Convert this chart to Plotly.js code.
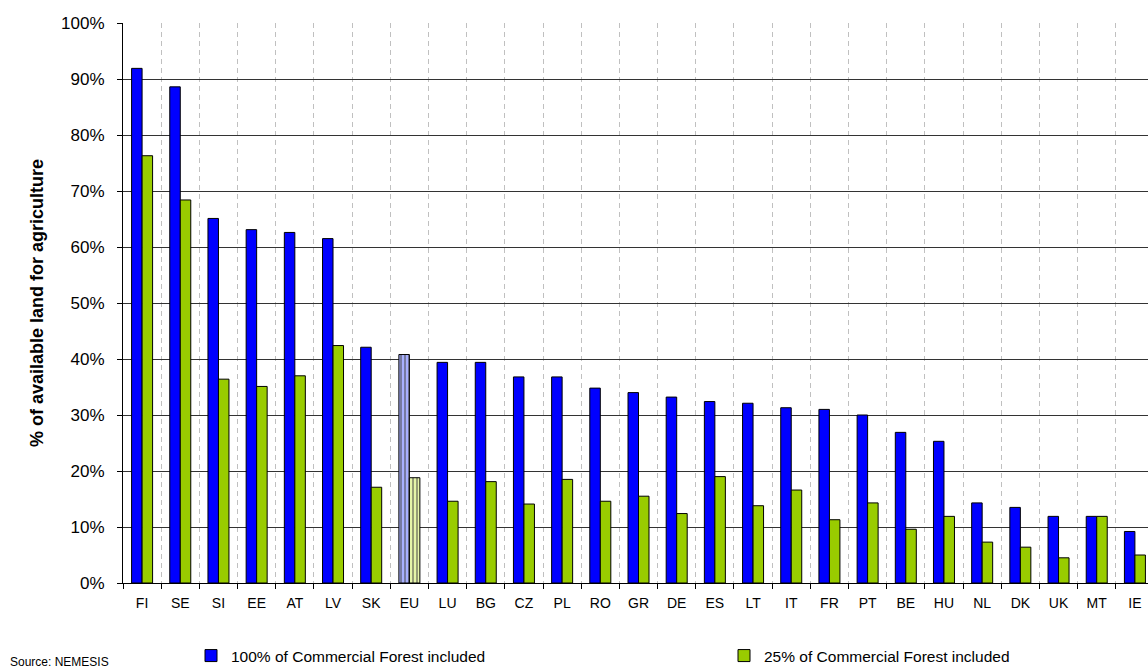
<!DOCTYPE html>
<html>
<head>
<meta charset="utf-8">
<script src="https://cdn.plot.ly/plotly-3.0.1.min.js"></script>
<style>
html,body{margin:0;padding:0;overflow:hidden;background:#fff;}
#chart{width:1200px;height:671px;}
</style>
</head>
<body>
<div id="chart"></div>
<script>
const countries = ["FI","SE","SI","EE","AT","LV","SK","EU","LU","BG","CZ","PL","RO","GR","DE","ES","LT","IT","FR","PT","BE","HU","NL","DK","UK","MT","IE"];
const full100 = [91.9,88.6,65.1,63.1,62.6,61.5,42.1,40.8,39.4,39.4,36.8,36.8,34.8,34.0,33.2,32.4,32.1,31.3,31.0,30.0,26.9,25.3,14.3,13.5,11.9,11.9,9.2];
const part25 = [76.3,68.4,36.4,35.1,37.0,42.4,17.1,18.8,14.6,18.1,14.1,18.5,14.6,15.5,12.4,19.0,13.8,16.6,11.3,14.3,9.6,11.9,7.3,6.4,4.5,11.9,5.0];
const seriesNames = ["100% of Commercial Forest included","25% of Commercial Forest included"];
const yTickVals = [0,10,20,30,40,50,60,70,80,90,100];
const highlight = "EU";

const shapes = countries.map(c => c === highlight ? "|" : "");
function pat(bg, fg){
  return {
    shape: shapes,
    bgcolor: countries.map(c => c === highlight ? bg : "rgba(0,0,0,0)"),
    fgcolor: countries.map(c => c === highlight ? fg : "rgba(0,0,0,0)"),
    size: 4, solidity: 0.5, fillmode: "overlay"
  };
}

const W = 1200, H = 671;
const L = 123, PW = 1031, PB = 583, PH = 560;
const px2x = p => (p - L) / PW;
const px2y = p => -(p - PB) / PH;
const cx = p => p / W;
const cy = p => (H - p) / H;

const traces = [
  {type:"bar", name:seriesNames[0], x:countries, y:full100, legend:"legend",
   marker:{color:countries.map(c=>c===highlight?"#a8b0ff":"#0000ff"), line:{color:"#000",width:1},
     pattern:pat("#b8c0ff","#0000ff")},
   hoverinfo:"x+y"},
  {type:"bar", name:seriesNames[1], x:countries, y:part25, legend:"legend2",
   marker:{color:countries.map(c=>c===highlight?"#e6f5a8":"#99cc00"), line:{color:"#000",width:1},
     pattern:pat("#eef8c0","#99cc00")},
   hoverinfo:"x+y"}
];

const legendBase = {orientation:"h", xref:"container", yref:"container",
  xanchor:"left", yanchor:"middle", y:cy(656),
  font:{size:15.5}, itemwidth:30, bgcolor:"rgba(0,0,0,0)", borderwidth:0};

const layout = {
  width:W, height:H,
  margin:{l:L, r:W-L-PW, t:23, b:H-23-PH, autoexpand:false},
  paper_bgcolor:"#fff", plot_bgcolor:"#fff",
  font:{family:"Liberation Sans, Arial, sans-serif", size:14, color:"#000"},
  barmode:"group", bargap:0.45, bargroupgap:0,
  showlegend:true,
  legend:Object.assign({}, legendBase, {x:cx(191)}),
  legend2:Object.assign({}, legendBase, {x:cx(724)}),
  xaxis:{type:"category", tickson:"boundaries", ticks:"outside", ticklen:5, tickcolor:"#000",
    showline:true, linecolor:"#000", linewidth:1,
    showgrid:true, gridcolor:"#c0c0c0", griddash:"5px,4px", gridwidth:1,
    tickfont:{size:14}, ticklabelstandoff:7, fixedrange:true},
  yaxis:{range:[0,100], tickvals:yTickVals, ticktext:yTickVals.map(v=>v+"%"),
    ticks:"outside", ticklen:5, tickcolor:"#000",
    showline:true, linecolor:"#000", linewidth:1,
    showgrid:true, gridcolor:"#333", gridwidth:1, zeroline:false,
    tickfont:{size:17}, ticklabelstandoff:9,
    title:{text:"<b>% of available land for agriculture</b>", font:{size:18}, standoff:12},
    fixedrange:true},
  annotations:[{text:"Source: NEMESIS", xref:"paper", yref:"paper",
    x:px2x(8), xanchor:"left", y:px2y(662), yanchor:"middle",
    showarrow:false, font:{size:12}}]
};

Plotly.newPlot("chart", traces, layout, {displayModeBar:false, staticPlot:true});
</script>
</body>
</html>
